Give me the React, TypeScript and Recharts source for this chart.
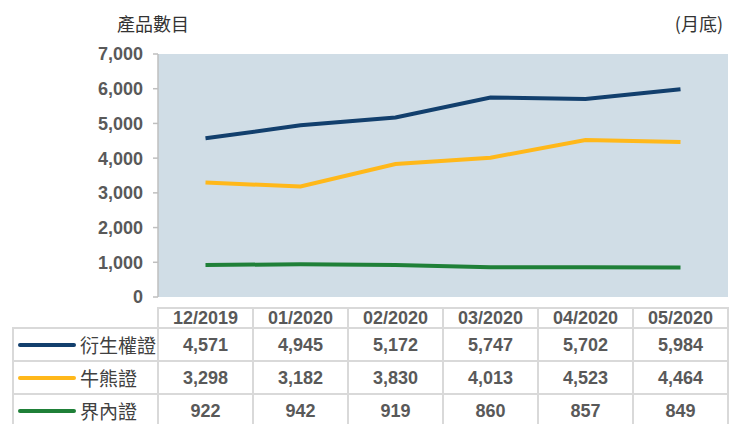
import React from "react";
import { LineChart, Line, XAxis, YAxis, CartesianGrid } from "recharts";

// month-end columns
const months = ["12/2019", "01/2020", "02/2020", "03/2020", "04/2020", "05/2020"];

// number of products per type
const derivativeWarrants = [4571, 4945, 5172, 5747, 5702, 5984];
const cbbcs = [3298, 3182, 3830, 4013, 4523, 4464];
const inlineWarrants = [922, 942, 919, 860, 857, 849];

const seriesNames = ["衍生權證", "牛熊證", "界內證"];
const seriesColors = ["#123F6D", "#FFB81A", "#1F8038"];
const seriesValues = [derivativeWarrants, cbbcs, inlineWarrants];

const yTicks = [0, 1000, 2000, 3000, 4000, 5000, 6000, 7000];

const chartData = months.map((m, i) => ({
  month: m,
  s0: derivativeWarrants[i],
  s1: cbbcs[i],
  s2: inlineWarrants[i],
}));

const fmt = (v: number) => v.toLocaleString("en-US");

const LATIN = '"Liberation Sans", Arial, sans-serif';
const CJK = '"Noto Sans CJK TC", "Noto Sans", sans-serif';
const BORDER = "2px solid #D9D9D9";

const cellBase: React.CSSProperties = {
  border: BORDER,
  padding: 0,
  textAlign: "center",
  fontFamily: LATIN,
  fontWeight: 700,
  fontSize: 18,
  color: "#595959",
};

const App: React.FC = () => {
  return (
    <div
      style={{
        position: "absolute",
        left: 0,
        top: 0,
        width: 740,
        height: 424,
        overflow: "hidden",
        background: "#fff",
      }}
    >
      <div
        style={{
          position: "absolute",
          left: 117,
          top: 10,
          fontFamily: CJK,
          fontSize: 18,
          color: "#333",
          lineHeight: "26px",
        }}
      >
        產品數目
      </div>
      <div
        style={{
          position: "absolute",
          right: 17,
          top: 10,
          fontFamily: CJK,
          fontSize: 18,
          color: "#333",
          lineHeight: "26px",
        }}
      >
        (月底)
      </div>

      <div style={{ position: "absolute", left: 0, top: 0 }}>
        <LineChart
          width={740}
          height={310}
          data={chartData}
          margin={{ top: 54, right: 12, bottom: 13, left: 0 }}
        >
          <CartesianGrid
            fill="#D0DDE6"
            stroke="none"
            horizontal={false}
            vertical={false}
          />
          <XAxis
            dataKey="month"
            hide
            padding={{ left: 47.5, right: 47.5 }}
          />
          <YAxis
            width={158}
            domain={[0, 7000]}
            ticks={yTicks}
            tickFormatter={fmt}
            axisLine={{ stroke: "#BFBFBF", strokeWidth: 1.5 }}
            tickLine={{ stroke: "#BFBFBF", strokeWidth: 1.5 }}
            tickSize={5}
            tickMargin={10}
            tick={{
              fill: "#595959",
              fontSize: 18,
              fontWeight: 700,
              fontFamily: LATIN,
            }}
          />
          {seriesNames.map((name, i) => (
            <Line
              key={name}
              dataKey={`s${i}`}
              name={name}
              type="linear"
              stroke={seriesColors[i]}
              strokeWidth={4}
              dot={false}
              activeDot={false}
              isAnimationActive={false}
            />
          ))}
        </LineChart>
      </div>

      <table
        style={{
          position: "absolute",
          left: 12,
          top: 307,
          borderCollapse: "collapse",
          tableLayout: "fixed",
          width: 715,
        }}
      >
        <colgroup>
          <col style={{ width: 145 }} />
          {months.map((m) => (
            <col key={m} style={{ width: 95 }} />
          ))}
        </colgroup>
        <tbody>
          <tr style={{ height: 20 }}>
            <td style={{ ...cellBase, borderTop: "none", borderLeft: "none" }} />
            {months.map((m) => (
              <td key={m} style={{ ...cellBase, lineHeight: "18px" }}>
                {m}
              </td>
            ))}
          </tr>
          {seriesNames.map((name, i) => (
            <tr key={name} style={{ height: 33 }}>
              <td style={{ ...cellBase, textAlign: "left" }}>
                <div style={{ display: "flex", alignItems: "center" }}>
                  <svg width={66} height={10} style={{ flex: "none" }}>
                    <line
                      x1={6}
                      x2={60}
                      y1={5}
                      y2={5}
                      stroke={seriesColors[i]}
                      strokeWidth={4}
                      strokeLinecap="round"
                    />
                  </svg>
                  <span
                    style={{
                      fontFamily: CJK,
                      fontWeight: 400,
                      fontSize: 19,
                      color: "#404040",
                      lineHeight: "28px",
                    }}
                  >
                    {name}
                  </span>
                </div>
              </td>
              {seriesValues[i].map((v, j) => (
                <td key={months[j]} style={{ ...cellBase, lineHeight: "28px" }}>
                  {fmt(v)}
                </td>
              ))}
            </tr>
          ))}
        </tbody>
      </table>
    </div>
  );
};

export default App;
